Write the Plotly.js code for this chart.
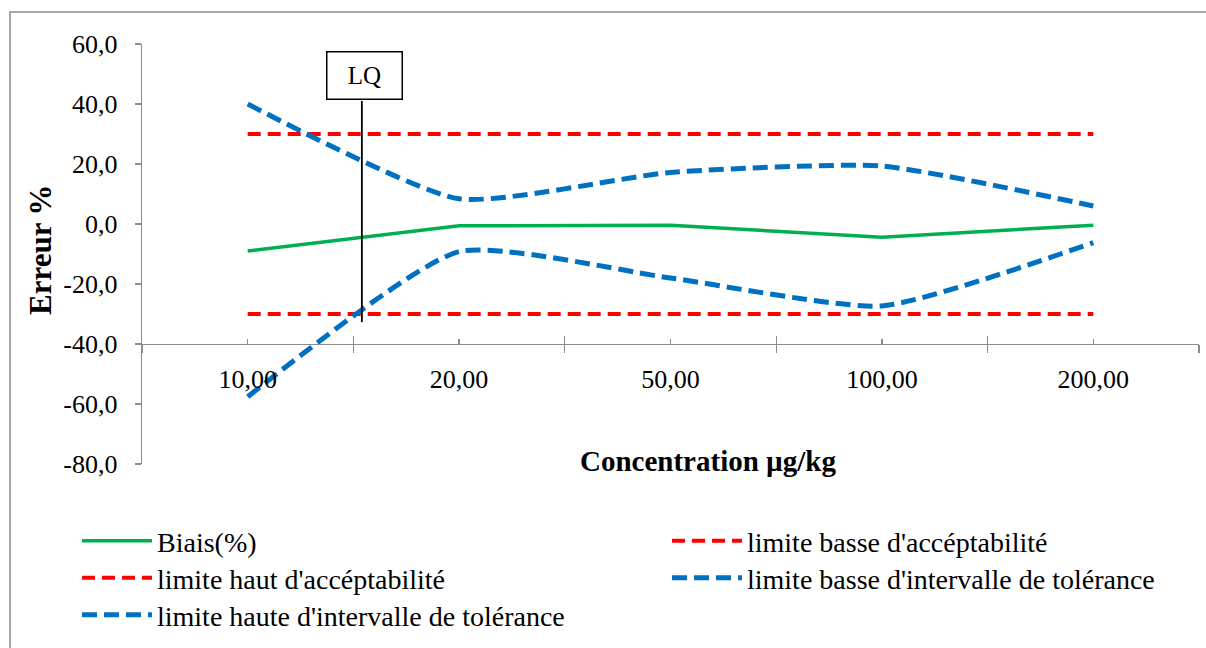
<!DOCTYPE html>
<html>
<head>
<meta charset="utf-8">
<script src="https://cdn.plot.ly/plotly-3.0.1.min.js"></script>
<style>
html,body{margin:0;padding:0;background:#fff;}
#chart{width:1206px;height:648px;}
</style>
</head>
<body>
<div id="chart"></div>
<script>
// ---- data ----
var categories = ["10,00", "20,00", "50,00", "100,00", "200,00"];
var biais = [-9.0, -0.6, -0.4, -4.4, -0.4];
var limiteBasseAcc = [-30, -30, -30, -30, -30];
var limiteHautAcc = [30, 30, 30, 30, 30];
var limiteBasseIT = [-57.6, -9.2, -18.0, -27.3, -6.2];
var limiteHauteIT = [40.0, 8.4, 17.2, 19.3, 6.0];
var seriesNames = ["Biais(%)", "limite basse d'accéptabilité", "limite haut d'accéptabilité",
  "limite basse d'intervalle de tolérance", "limite haute d'intervalle de tolérance"];
var yTickVals = [-80, -60, -40, -20, 0, 20, 40, 60];
var yTickText = ["-80,0", "-60,0", "-40,0", "-20,0", "0,0", "20,0", "40,0", "60,0"];
var lqX = 0.54;          // LQ marker position (category index units)
var lqBottom = -32.7;
var lqTop = 41;

var idx = categories.map(function (_, i) { return i; });
var boundaries = categories.map(function (_, i) { return i - 0.5; }).concat([categories.length - 0.5]);

var FONT = "'Liberation Serif', 'Times New Roman', serif";
var GREEN = "#00B050", RED = "#FF0000", BLUE = "#0070C0";

function tr(y, name, color, width, dash, shape, legend) {
  return {
    x: idx, y: y, name: name, type: "scatter", mode: "lines",
    line: {color: color, width: width, dash: dash, shape: shape, smoothing: 0.55},
    legend: legend, hoverinfo: "skip"
  };
}

var traces = [
  tr(biais, seriesNames[0], GREEN, 3.5, "solid", "linear", "legend"),
  tr(limiteBasseAcc, seriesNames[1], RED, 4, "13px,7px", "linear", "legend2"),
  tr(limiteHautAcc, seriesNames[2], RED, 4, "13px,7px", "linear", "legend3"),
  tr(limiteBasseIT, seriesNames[3], BLUE, 5, "15px,7px", "spline", "legend4"),
  tr(limiteHauteIT, seriesNames[4], BLUE, 5, "15px,7px", "spline", "legend5")
];

// plot area in pixels: x 142..1199, y 44..464
var L = 142, R = 1199, T = 44, B = 464, W = 1206, H = 648;
function px(x) { return (x - L) / (R - L); }
function py(y) { return (B - y) / (B - T); }
var yMin = -80, yMax = 60, xCross = -40;
var xAxisPos = (xCross - yMin) / (yMax - yMin);

function leg(xpix, ypix) {
  return {
    x: px(xpix), y: py(ypix), xanchor: "left", yanchor: "middle",
    font: {family: FONT, size: 28, color: "#000"},
    bgcolor: "rgba(0,0,0,0)", borderwidth: 0, itemwidth: 70,
    orientation: "v"
  };
}

var layout = {
  width: W, height: H,
  margin: {l: L, r: W - R, t: T, b: H - B, pad: 0},
  paper_bgcolor: "#fff", plot_bgcolor: "#fff",
  separators: ", ",
  font: {family: FONT, size: 26, color: "#000"},
  showlegend: true,
  xaxis: {
    type: "linear", range: [-0.5, categories.length - 0.5],
    tickmode: "array", tickvals: idx, ticktext: categories,
    ticks: "inside", ticklen: 5, tickwidth: 1.3, tickcolor: "#8c8c8c",
    minor: {tickmode: "array", tickvals: boundaries, ticks: "inside", ticklen: 8, tickwidth: 1.3, tickcolor: "#8c8c8c", showgrid: false},
    showline: true, linecolor: "#8c8c8c", linewidth: 1.3,
    showgrid: false, zeroline: false,
    anchor: "free", position: xAxisPos,
    ticklabelstandoff: 11,
    tickfont: {family: FONT, size: 26, color: "#000"}
  },
  xaxis2: {
    type: "linear", range: [-0.5, categories.length - 0.5], overlaying: "x",
    tickmode: "array", tickvals: boundaries,
    ticks: "outside", ticklen: 8, tickwidth: 1.3, tickcolor: "#8c8c8c",
    showticklabels: false, showline: false, showgrid: false, zeroline: false,
    anchor: "free", position: xAxisPos
  },
  yaxis: {
    range: [yMin, yMax], tickmode: "array", tickvals: yTickVals, ticktext: yTickText,
    ticks: "outside", ticklen: 6, tickwidth: 1.3, tickcolor: "#8c8c8c",
    showline: true, linecolor: "#8c8c8c", linewidth: 1.3,
    showgrid: false, zeroline: false,
    ticklabelstandoff: 12,
    tickfont: {family: FONT, size: 26, color: "#000"}
  },
  legend: leg(77, 541),
  legend2: leg(667, 541),
  legend3: leg(77, 578),
  legend4: leg(667, 578),
  legend5: leg(77, 615),
  annotations: [
    {xref: "paper", yref: "paper", x: px(708), y: py(461), xanchor: "center", yanchor: "middle",
     text: "<b>Concentration µg/kg</b>", showarrow: false, font: {family: FONT, size: 29, color: "#000"}},
    {xref: "paper", yref: "paper", x: px(40), y: py(250), xanchor: "center", yanchor: "middle",
     text: "<b>Erreur %</b>", textangle: -90, showarrow: false, font: {family: FONT, size: 31, color: "#000"}},
    {xref: "x", yref: "y", x: lqX, y: lqTop, xanchor: "center", yanchor: "bottom", xshift: 3, yshift: 1,
     text: "LQ", showarrow: false, font: {family: FONT, size: 25, color: "#000"},
     bordercolor: "#000", borderwidth: 1.5, bgcolor: "#fff", width: 72, height: 44, borderpad: 1}
  ],
  shapes: [
    {type: "line", xref: "x", yref: "y", x0: lqX, x1: lqX, y0: lqBottom, y1: lqTop,
     line: {color: "#000", width: 1.8}},
    {type: "rect", xref: "paper", yref: "paper", layer: "below",
     x0: px(10), x1: px(1240), y0: py(12), y1: py(700),
     line: {color: "#8c8c8c", width: 1.5}, fillcolor: "rgba(0,0,0,0)"}
  ]
};

// invisible trace to activate xaxis2
traces.push({x: [0], y: [0], xaxis: "x2", yaxis: "y", mode: "markers", marker: {opacity: 0}, showlegend: false, hoverinfo: "skip"});

Plotly.newPlot("chart", traces, layout, {staticPlot: true, displayModeBar: false});
</script>
</body>
</html>
